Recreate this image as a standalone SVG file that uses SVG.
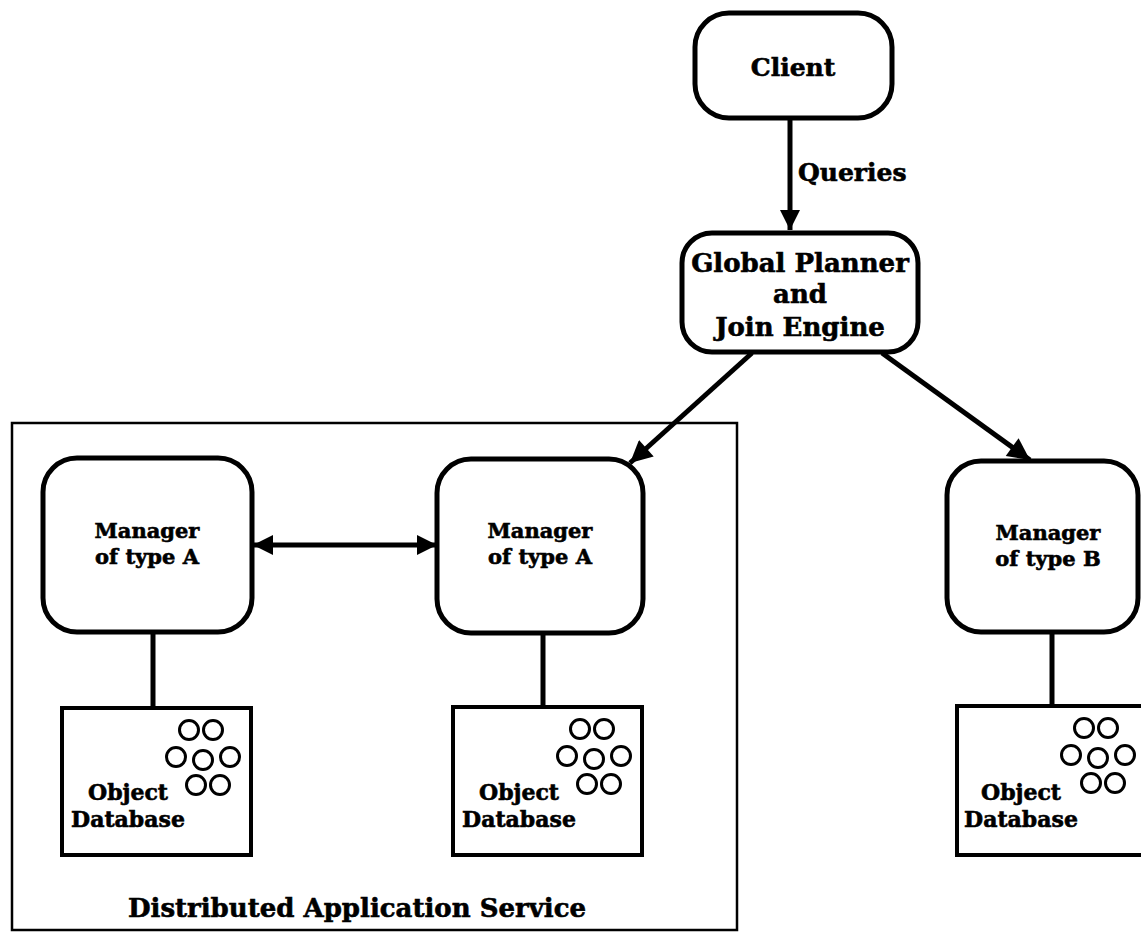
<svg xmlns="http://www.w3.org/2000/svg" width="1141" height="933" viewBox="0 0 1141 933">
<defs>
<style>
.box{fill:#fff;stroke:#000;stroke-width:5}
.db{fill:#fff;stroke:#000;stroke-width:4}
.obj{fill:none;stroke:#000;stroke-width:3}
.ln{stroke:#000;stroke-width:5;fill:none}
.t{font-family:"DejaVu Serif","Liberation Serif",serif;font-weight:bold;fill:#000;stroke:#000;stroke-width:0.6;text-anchor:middle}
.big{font-size:26px}
.mid{font-size:21px}
.sm{font-size:22px}
</style>
<marker id="ah" viewBox="0 0 10 10" refX="10" refY="5" markerUnits="userSpaceOnUse" markerWidth="38" markerHeight="22" orient="auto-start-reverse">
<path d="M0,0 L10,5 L0,10 Z" fill="#000"/>
</marker>
<marker id="ah2" viewBox="0 0 10 10" refX="10" refY="5" markerUnits="userSpaceOnUse" markerWidth="34" markerHeight="20" orient="auto-start-reverse">
<path d="M0,0 L10,5 L0,10 Z" fill="#000"/>
</marker>
<g id="objs">
<circle class="obj" cx="127" cy="22" r="9.5"/>
<circle class="obj" cx="151" cy="22" r="9.5"/>
<circle class="obj" cx="114" cy="49" r="9.5"/>
<circle class="obj" cx="141" cy="52" r="9.5"/>
<circle class="obj" cx="168" cy="49" r="9.5"/>
<circle class="obj" cx="134" cy="77" r="9.5"/>
<circle class="obj" cx="158" cy="77" r="9.5"/>
</g>
</defs>
<rect width="1141" height="933" fill="#fff"/>

<g id="service">
<rect x="12" y="423" width="725" height="507" fill="none" stroke="#000" stroke-width="2.5"/>
<text class="t big" x="357" y="917">Distributed Application Service</text>
</g>

<g id="connectors">
<line class="ln" x1="790" y1="118" x2="790" y2="230" marker-end="url(#ah2)"/>
<line class="ln" x1="752" y1="353" x2="630" y2="463" marker-end="url(#ah)"/>
<line class="ln" x1="882" y1="353" x2="1030" y2="460" marker-end="url(#ah)"/>
<line class="ln" x1="253" y1="545" x2="437" y2="545" marker-start="url(#ah2)" marker-end="url(#ah2)"/>
<line class="ln" x1="153" y1="632" x2="153" y2="708" stroke-width="4"/>
<line class="ln" x1="543" y1="632" x2="543" y2="707" stroke-width="4"/>
<line class="ln" x1="1052" y1="632" x2="1052" y2="706" stroke-width="4"/>
<text class="t big" x="798" y="181" style="text-anchor:start;font-size:25px">Queries</text>
</g>

<g id="client">
<rect class="box" x="695" y="13" width="197" height="105" rx="34"/>
<text class="t" x="793" y="76" style="font-size:25px">Client</text>
</g>

<g id="planner">
<rect class="box" x="682" y="233" width="236" height="119" rx="30"/>
<text class="t big" x="800" y="272">Global Planner</text>
<text class="t big" x="800" y="303">and</text>
<text class="t big" x="800" y="336">Join Engine</text>
</g>

<g id="managerA1">
<rect class="box" x="43" y="458" width="209" height="174" rx="34"/>
<text class="t mid" x="147" y="538">Manager</text>
<text class="t mid" x="147" y="564">of type A</text>
</g>

<g id="managerA2">
<rect class="box" x="437" y="459" width="206" height="174" rx="34"/>
<text class="t mid" x="540" y="538">Manager</text>
<text class="t mid" x="540" y="564">of type A</text>
</g>

<g id="managerB">
<rect class="box" x="947" y="461" width="191" height="171" rx="34"/>
<text class="t mid" x="1048" y="540">Manager</text>
<text class="t mid" x="1048" y="566">of type B</text>
</g>

<g id="db1">
<rect class="db" x="62" y="708" width="189" height="147"/>
<use href="#objs" x="62" y="708"/>
<text class="t sm" x="128" y="800">Object</text>
<text class="t sm" x="128" y="827">Database</text>
</g>

<g id="db2">
<rect class="db" x="453" y="707" width="189" height="148"/>
<use href="#objs" x="453" y="707"/>
<text class="t sm" x="519" y="800">Object</text>
<text class="t sm" x="519" y="827">Database</text>
</g>

<g id="db3">
<rect class="db" x="957" y="706" width="190" height="149"/>
<use href="#objs" x="957" y="706"/>
<text class="t sm" x="1021" y="800">Object</text>
<text class="t sm" x="1021" y="827">Database</text>
</g>
</svg>
